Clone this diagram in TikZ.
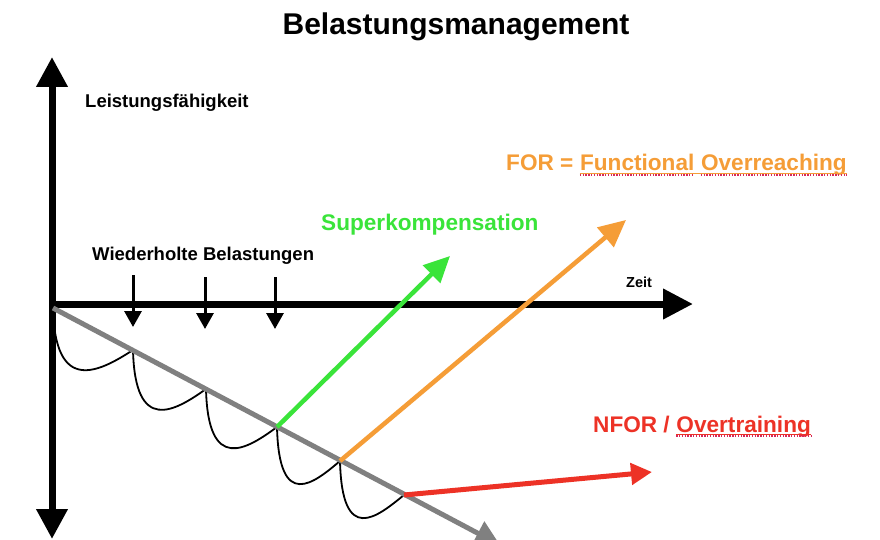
\documentclass[tikz,border=0pt]{standalone}
\usepackage{fontspec}
\setmainfont{Liberation Sans}
\usetikzlibrary{arrows.meta}
\definecolor{cgreen}{RGB}{58,228,58}
\definecolor{corange}{RGB}{245,157,55}
\definecolor{cred}{RGB}{237,50,38}
\definecolor{cgray}{RGB}{128,128,128}
\definecolor{cspell}{RGB}{215,40,90}
\begin{document}
\begin{tikzpicture}[x=1pt,y=-1pt,
  lbl/.style={inner sep=0pt, anchor=base west},
  bigfont/.style={font=\bfseries\fontsize{30}{33}\selectfont},
  midfont/.style={font=\bfseries\fontsize{18.5}{21}\selectfont},
  colfont/.style={font=\bfseries\fontsize{22.6}{25}\selectfont},
  smallfont/.style={font=\bfseries\fontsize{14.5}{16}\selectfont},
  axisline/.style={line width=7pt, black},
  loadarrow/.style={line width=3pt, black, -{Triangle[length=16pt,width=17pt]}},
  trendline/.style={line width=5pt, cgray, -{Triangle[length=25pt,width=26pt]}},
  scallop/.style={line width=1.8pt, black},
  greenarrow/.style={line width=4.5pt, cgreen, -{Triangle[length=26pt,width=24pt]}},
  orangearrow/.style={line width=4.5pt, corange, -{Triangle[length=27pt,width=25pt]}},
  redarrow/.style={line width=5pt, cred, -{Triangle[length=21pt,width=21pt]}},
  ulsolid/.style={line width=1pt},
  ulspell/.style={line width=1.4pt, cspell, dash pattern=on 1.3pt off 1.5pt}
]
\useasboundingbox (0,0) rectangle (880,540);
\fill[white] (0,0) rectangle (880,540);

% coordinates
\coordinate (vtop) at (52,57);
\coordinate (vbot) at (52,539);
\coordinate (hstart) at (49,304);
\coordinate (htip) at (693,304);
\coordinate (p0) at (53,308);
\coordinate (p1) at (133,350);
\coordinate (p2) at (206,389);
\coordinate (p3) at (277,427);
\coordinate (p4) at (340,461);
\coordinate (p5) at (404,495);
\coordinate (gtip) at (500,545);
\coordinate (d1s) at (133,275);
\coordinate (d1e) at (133,327);
\coordinate (d2s) at (205,277);
\coordinate (d2e) at (205,329);
\coordinate (d3s) at (275,277);
\coordinate (d3e) at (275,329);
\coordinate (gend) at (450,256);
\coordinate (oend) at (626,220);
\coordinate (rend) at (652,472);

% texts
\node[lbl, bigfont, anchor=base] (title) at (456,35) {Belastungsmanagement};
\node[lbl, midfont] (yl) at (85,108) {Leistungsfähigkeit};
\node[lbl, midfont] (wb) at (92,260) {Wiederholte Belastungen};
\node[lbl, smallfont] (zeit) at (626,287) {Zeit};
\node[lbl, colfont, text=cgreen] (sk) at (321,230) {Superkompensation};
\node[lbl, colfont, text=corange] (forA) at (506,171) {FOR =};
\node[lbl, colfont, text=corange] (forB) at ([xshift=6.3pt]forA.base east) {Functional};
\node[lbl, colfont, text=corange] (forC) at ([xshift=6.3pt]forB.base east) {Overreaching};
\node[lbl, colfont, text=cred] (nforA) at (593,432) {NFOR /};
\node[lbl, colfont, text=cred] (nforB) at ([xshift=6.3pt]nforA.base east) {Overtraining};

% underlines
\draw[ulsolid, corange] ([yshift=-2.2pt]forB.base west) -- ([yshift=-2.2pt]forC.base east);
\draw[ulspell] ([yshift=-4pt]forB.base west) -- ([yshift=-4pt]forB.base east);
\draw[ulspell] ([yshift=-4pt]forC.base west) -- ([yshift=-4pt]forC.base east);
\draw[ulsolid, cred] ([yshift=-2.2pt]nforB.base west) -- ([yshift=-2.2pt]nforB.base east);
\draw[ulspell] ([yshift=-4pt]nforB.base west) -- ([yshift=-4pt]nforB.base east);

% axes
\draw[axisline, {Triangle[length=30pt,width=30pt]}-{Triangle[length=30pt,width=30pt]}] (vtop) -- (vbot);
\draw[axisline, -{Triangle[length=30pt,width=29pt]}] (hstart) -- (htip);

% scallops
\draw[scallop] (p0) .. controls +(2,87) and +(-34,22) .. (p1);
\draw[scallop] (p1) .. controls +(2,85) and +(-31,22) .. (p2);
\draw[scallop] (p2) .. controls +(2,85) and +(-30,22) .. (p3);
\draw[scallop] (p3) .. controls +(2,85) and +(-26,22) .. (p4);
\draw[scallop] (p4) .. controls +(2,85) and +(-27,22) .. (p5);

% trend line
\draw[trendline] (p0) -- (gtip);

% load arrows
\draw[loadarrow] (d1s) -- (d1e);
\draw[loadarrow] (d2s) -- (d2e);
\draw[loadarrow] (d3s) -- (d3e);

% outcome arrows
\draw[greenarrow] (p3) -- (gend);
\draw[orangearrow] (p4) -- (oend);
\draw[redarrow] (p5) -- (rend);
\end{tikzpicture}
\end{document}
